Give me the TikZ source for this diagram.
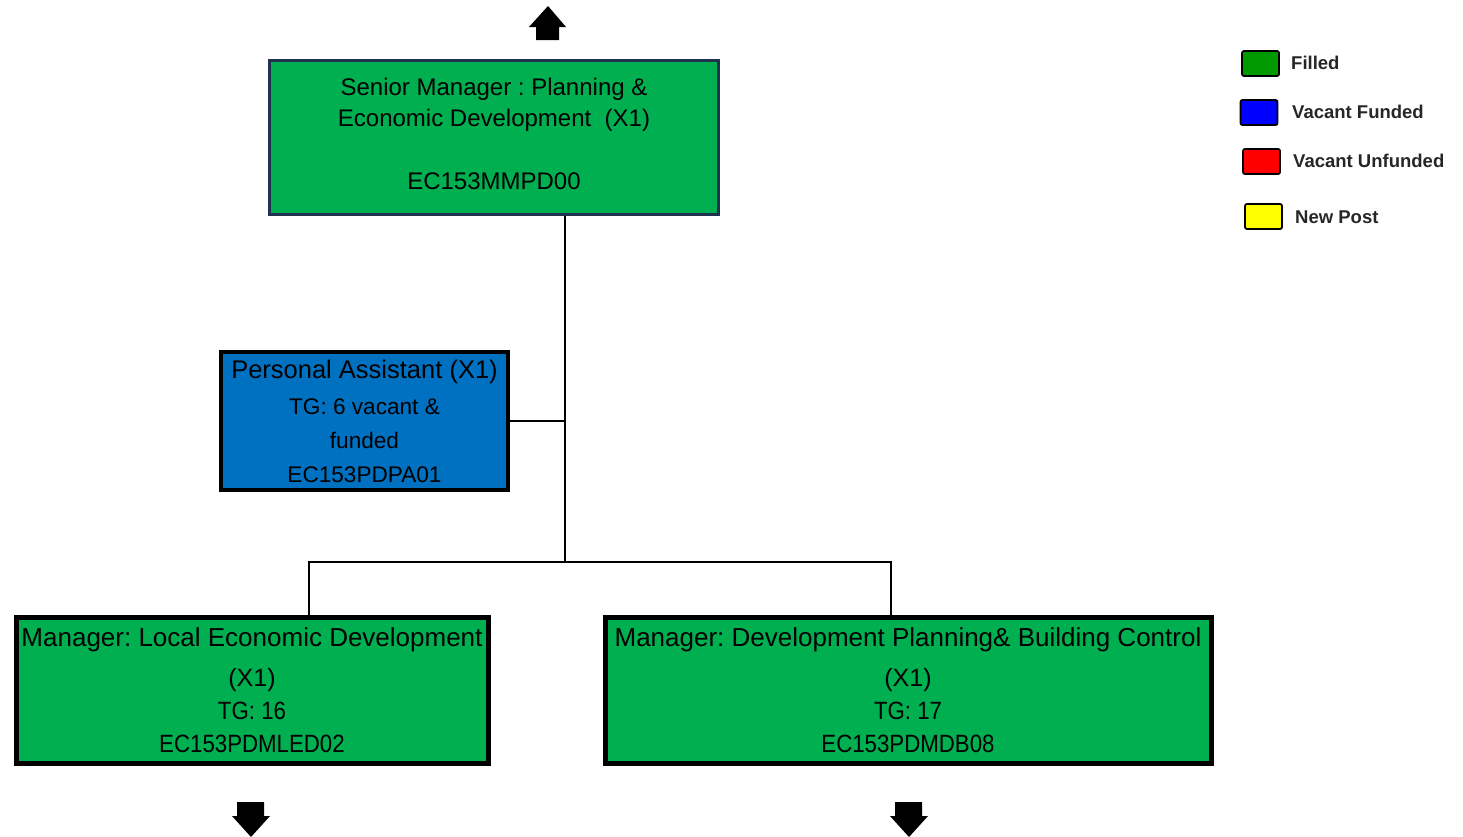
\documentclass[tikz,border=0pt]{standalone}
\usepackage{graphicx}
\usepackage{fontspec}
\setmainfont{Liberation Sans}
\frenchspacing
\definecolor{boxgreen}{HTML}{00B050}
\definecolor{boxblue}{HTML}{0070C0}
\definecolor{navy}{HTML}{1F3350}
\definecolor{lgreen}{HTML}{009A00}
\definecolor{lblue}{HTML}{0000FF}
\definecolor{lred}{HTML}{FF0000}
\definecolor{lyellow}{HTML}{FFFF00}
\definecolor{ltext}{HTML}{262626}
\newcommand{\smallline}{\fontsize{22.6}{33}\selectfont}
\newcommand{\narrowline}[1]{\fontsize{25}{33}\selectfont\scalebox{0.89}[1]{#1}}
\tikzset{
  post/.style={draw=black, line width=5pt, fill=boxgreen, align=center, inner sep=0pt, text=black},
  conn/.style={draw=black, line width=2.8pt},
  legbox/.style={draw=black, line width=1.8pt, rounded corners=2pt, minimum width=37pt, minimum height=25pt, inner sep=0pt},
  legtext/.style={anchor=west, text=ltext, font=\fontsize{18.5}{22}\selectfont\bfseries, inner sep=0pt},
  navarrow/.style={fill=black}
}
\begin{document}
\begin{tikzpicture}[x=1pt,y=-1pt]
\useasboundingbox (0,0) rectangle (1463,836);
% boxes
\node[post, draw=navy, line width=3.5pt, minimum width=449pt, minimum height=154pt] (sen) at (494,137.5) {};
\node[align=center, inner sep=0pt, font=\fontsize{24}{31}\selectfont] (sent) at (494,134)
  {Senior Manager : Planning \&\\Economic Development~~(X1)\\[32pt]EC153MMPD00};
\node[post, fill=boxblue, line width=4.5pt, minimum width=287pt, minimum height=138pt,
      font=\fontsize{25.5}{34}\selectfont] (pa) at (364.5,421)
  {Personal Assistant (X1)\\[2pt]\smallline TG: 6 vacant \&\\\smallline funded\\\smallline EC153PDPA01};
\node[post, minimum width=472pt, minimum height=146pt,
      font=\fontsize{26}{33}\selectfont] (led) at (252,690)
  {Manager: Local Economic Development\\[7pt]\fontsize{25}{33}\selectfont(X1)\\\narrowline{TG: 16}\\\narrowline{EC153PDMLED02}};
\node[post, minimum width=606pt, minimum height=146pt,
      font=\fontsize{26}{33}\selectfont] (dpb) at (908,690)
  {Manager: Development Planning\& Building Control\\[7pt]\fontsize{25}{33}\selectfont(X1)\\\narrowline{TG: 17}\\\narrowline{EC153PDMDB08}};
% connectors
\coordinate (trunk) at (565,562);
\coordinate (j1) at (309,562);
\coordinate (j2) at (891,562);
\draw[conn] (sen.south -| trunk) -- (trunk);
\draw[conn] (pa.east) -- (pa.east -| trunk);
\draw[conn] (j1 |- led.north) -- (j1) -- (j2) -- (j2 |- dpb.north);
% navigation arrows
\fill[navarrow] (548,6) -- (566,27) -- (559,27) -- (559,40) -- (536,40) -- (536,27) -- (529,27) -- cycle;
\fill[navarrow] (237,802) -- (264,802) -- (264,816) -- (270,816) -- (251,837) -- (232,816) -- (237,816) -- cycle;
\fill[navarrow] (895,802) -- (922,802) -- (922,816) -- (928,816) -- (909,837) -- (890,816) -- (895,816) -- cycle;
% legend
\node[legbox, fill=lgreen] (lg1) at (1260.5,63.5) {};
\node[legbox, fill=lblue] (lg2) at (1259,112.5) {};
\node[legbox, fill=lred] (lg3) at (1261.5,161.5) {};
\node[legbox, fill=lyellow] (lg4) at (1263.5,216.5) {};
\node[legtext] (lt1) at (1291,63) {Filled};
\node[legtext] (lt2) at (1292,112) {Vacant Funded};
\node[legtext] (lt3) at (1293,161) {Vacant Unfunded};
\node[legtext] (lt4) at (1295,217) {New Post};
\end{tikzpicture}
\end{document}
